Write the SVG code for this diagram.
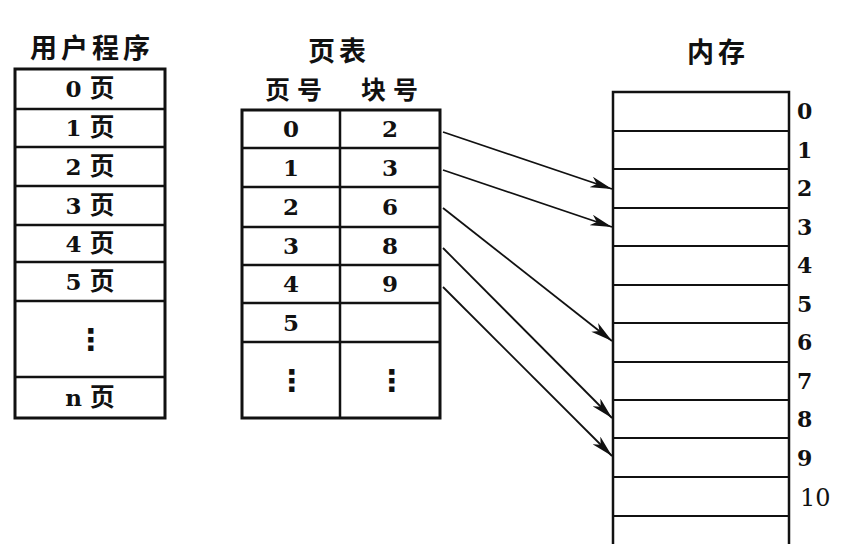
<svg xmlns="http://www.w3.org/2000/svg" width="842" height="544" viewBox="0 0 842 544">
<defs>
<style>
.bg{fill:#fff}
.box{fill:#fff;stroke:#111;stroke-width:3}
.ln{stroke:#111;stroke-width:2.5;fill:none}
.thin{stroke:#111;stroke-width:2;fill:none}
.t{font-family:"DejaVu Serif","Noto Sans CJK SC",serif;font-weight:bold;font-size:23px;fill:#111;text-anchor:middle}
.cj{font-family:"Noto Sans CJK SC",sans-serif;font-weight:bold;font-size:25px}
.ttl{font-family:"Noto Sans CJK SC",sans-serif;font-weight:bold;font-size:27px;fill:#111;text-anchor:middle;letter-spacing:4px}
.hd{font-family:"Noto Sans CJK SC",sans-serif;font-weight:bold;font-size:25px;fill:#111;text-anchor:middle;letter-spacing:7px}
.dots{font-family:"DejaVu Sans",sans-serif;font-weight:bold;font-size:30px;fill:#111;text-anchor:middle}
.num{font-family:"DejaVu Serif",serif;font-weight:bold;font-size:22px;fill:#111}
.arr{stroke:#111;stroke-width:1.8;fill:none;marker-end:url(#ah)}
</style>
<marker id="ah" viewBox="0 0 22 11" refX="22" refY="5.5" markerWidth="22" markerHeight="11" markerUnits="userSpaceOnUse" orient="auto">
<path d="M0,0 L22,5.5 L0,11 L6,5.5 Z" fill="#111"/>
</marker>
</defs>
<rect class="bg" x="0" y="0" width="842" height="544"/>

<g id="user-program">
<text class="ttl" x="92" y="58">用户程序</text>
<rect class="box" x="15" y="69" width="150" height="349"/>
<path class="ln" d="M15,109H165M15,147H165M15,186H165M15,225H165M15,262H165M15,301H165M15,377H165"/>
<text x="90" y="97" class="t">0 <tspan class="cj">页</tspan></text>
<text x="90" y="136" class="t">1 <tspan class="cj">页</tspan></text>
<text x="90" y="175" class="t">2 <tspan class="cj">页</tspan></text>
<text x="90" y="214" class="t">3 <tspan class="cj">页</tspan></text>
<text x="90" y="252" class="t">4 <tspan class="cj">页</tspan></text>
<text x="90" y="290" class="t">5 <tspan class="cj">页</tspan></text>
<text x="91" y="350" class="dots">⋮</text>
<text x="90" y="406" class="t">n <tspan class="cj">页</tspan></text>
</g>

<g id="page-table">
<text class="ttl" x="339" y="61">页表</text>
<text class="hd" x="297" y="99">页号</text>
<text class="hd" x="393" y="99">块号</text>
<rect class="box" x="242" y="110" width="198" height="308"/>
<path class="ln" d="M340,110V418M242,148H440M242,187H440M242,227H440M242,265H440M242,303H440M242,342H440"/>
<text class="t" x="291" y="137">0</text><text class="t" x="390" y="137">2</text>
<text class="t" x="291" y="176">1</text><text class="t" x="390" y="176">3</text>
<text class="t" x="291" y="215">2</text><text class="t" x="390" y="215">6</text>
<text class="t" x="291" y="254">3</text><text class="t" x="390" y="254">8</text>
<text class="t" x="291" y="292">4</text><text class="t" x="390" y="292">9</text>
<text class="t" x="291" y="331">5</text>
<text class="dots" x="292" y="391">⋮</text>
<text class="dots" x="392" y="391">⋮</text>
</g>

<g id="memory">
<text class="ttl" x="718" y="62">内存</text>
<path class="ln" d="M613,560V92H789V560"/>
<path class="thin" d="M613,131H789M613,169H789M613,208H789M613,246H789M613,285H789M613,323H789M613,362H789M613,400H789M613,438H789M613,477H789M613,516H789"/>
<text class="num" x="797" y="119">0</text>
<text class="num" x="797" y="158">1</text>
<text class="num" x="797" y="196">2</text>
<text class="num" x="797" y="235">3</text>
<text class="num" x="797" y="273">4</text>
<text class="num" x="797" y="312">5</text>
<text class="num" x="797" y="350">6</text>
<text class="num" x="797" y="389">7</text>
<text class="num" x="797" y="427">8</text>
<text class="num" x="797" y="466">9</text>
<text class="num" x="800" y="506" style="font-weight:normal;font-size:24px">10</text>
</g>

<g id="connectors">
<line class="arr" x1="443" y1="132" x2="612" y2="189"/>
<line class="arr" x1="443" y1="170" x2="612" y2="227"/>
<line class="arr" x1="443" y1="208" x2="612" y2="341"/>
<line class="arr" x1="443" y1="248" x2="612" y2="418"/>
<line class="arr" x1="443" y1="287" x2="612" y2="456"/>
</g>
</svg>
